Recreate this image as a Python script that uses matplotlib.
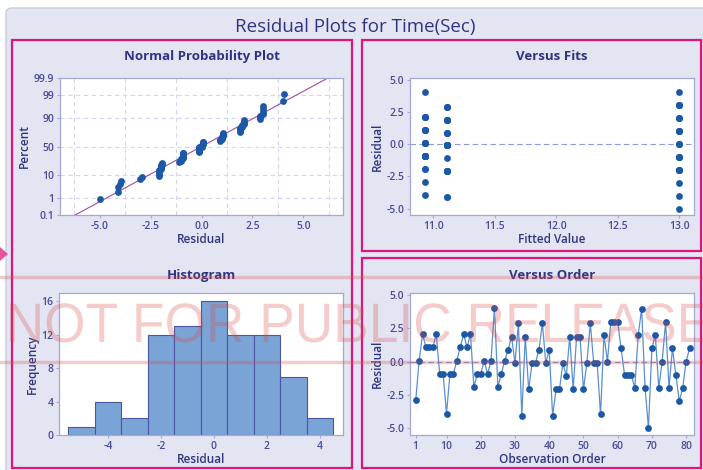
import numpy as np
import matplotlib
matplotlib.use("Agg")
import matplotlib.pyplot as plt
from matplotlib.patches import Rectangle, FancyBboxPatch, Polygon, PathPatch
from matplotlib.textpath import TextPath
from matplotlib.font_manager import FontProperties
from matplotlib.transforms import Affine2D
from statistics import NormalDist

plt.rcParams['font.family'] = ['Open Sans', 'DejaVu Sans']
plt.rcParams['axes.unicode_minus'] = False

residuals = [-2.93, 0.07, 2.07, 1.07, 1.07, 1.07, 2.07, -0.93, -0.93, -3.93,
             -0.93, -0.93, 0.07, 1.07, 2.07, 1.07, 2.07, -1.93, -0.93, -0.93,
             0.07, -0.93, 0.07, 4.07, -1.93, -0.93, 0.07,
             0.89, 1.89, -0.11, 2.89, -4.11, 1.89, -2.11, -0.11, -0.11, 0.89,
             2.89, -0.11, 0.89, -4.11, -2.11, -2.11, -0.11, -1.11, 1.89, -2.11,
             1.89, 1.89, -2.11, -0.11, 2.89, -0.11, -0.11,
             -4, 2, 0, 3, 3, 3, 1, -1, -1, -1, -2, 2, 4, -2, -5, 1, 2, -2, 0, 3,
             -2, 1, -1, -3, -2, 0, 1]
fitted = [10.93] * 27 + [11.11] * 27 + [13.0] * 27
order = list(range(1, len(residuals) + 1))

pct_ticks = [0.1, 1, 10, 50, 90, 99, 99.9]
pct_labels = ['0.1', '1', '10', '50', '90', '99', '99.9']
hist_edges = [-5.5, -4.5, -3.5, -2.5, -1.5, -0.5, 0.5, 1.5, 2.5, 3.5, 4.5]

# colours
BG = '#e4e5f3'
PINK = '#e0157c'
NAVY = '#2f3482'
TICK = '#474b9a'
SPINE = '#a3a8d6'
DOT = '#1c58a5'

W, H = 703, 470
fig = plt.figure(figsize=(W / 100, H / 100), dpi=100, facecolor='white')

def px_axes(l, t, r, b):
    ax = fig.add_axes([l / W, 1 - b / H, (r - l) / W, (b - t) / H])
    ax.set_facecolor('white')
    for s in ax.spines.values():
        s.set_color(SPINE)
        s.set_linewidth(0.9)
    ax.tick_params(colors=SPINE, labelcolor=TICK, labelsize=7.5, length=2.5,
                   width=0.8, pad=1.5)
    return ax

def deco(ax, title, xlabel, ylabel, tpad):
    ax.set_title(title, fontsize=9.5, color=NAVY, fontweight='bold', pad=tpad)
    ax.set_xlabel(xlabel, fontsize=8.5, color=NAVY, fontweight='semibold', labelpad=1)
    ax.set_ylabel(ylabel, fontsize=8.5, color=NAVY, fontweight='semibold', labelpad=2)
    for lab in ax.get_xticklabels() + ax.get_yticklabels():
        lab.set_fontweight('semibold')

# background frame
fig.add_artist(FancyBboxPatch((6 / W, -0.05), 1.05, 1 - 8 / H + 0.05,
                              boxstyle='round,pad=0,rounding_size=0.01',
                              transform=fig.transFigure, facecolor=BG,
                              edgecolor='#c9cbdb', linewidth=1.0, zorder=-10))
for (l, t, r, b) in [(12, 40, 352, 468), (362, 40, 701, 251), (362, 258, 701, 468)]:
    fig.add_artist(Rectangle((l / W, 1 - b / H), (r - l) / W, (b - t) / H,
                             transform=fig.transFigure, fill=False,
                             edgecolor=PINK, linewidth=1.6, zorder=-5))
fig.add_artist(Polygon([[0, 1 - 247 / H], [8 / W, 1 - 254 / H], [0, 1 - 261 / H]],
                       closed=True, transform=fig.transFigure,
                       facecolor='#e2559c', edgecolor='none'))

fig.text(355 / W, 1 - 27 / H, 'Residual Plots for Time(Sec)', ha='center', va='center',
         fontsize=13.5, color=NAVY)

# normal probability plot
nd = NormalDist()
def fwd(p):
    p = np.clip(np.asarray(p, dtype=float), 1e-6, 100 - 1e-6)
    return np.vectorize(lambda v: nd.inv_cdf(v / 100.0))(p) if p.size else p
def inv(z):
    z = np.asarray(z, dtype=float)
    return np.vectorize(lambda v: nd.cdf(v) * 100.0)(z) if z.size else z

ax1 = px_axes(60, 78, 343, 215)
ax1.set_yscale('function', functions=(fwd, inv))
srt = np.sort(residuals)
n = len(srt)
pct = (np.arange(1, n + 1) - 0.3) / (n + 0.4) * 100
mu, sd = np.mean(residuals), np.std(residuals, ddof=1)
fit = NormalDist(mu, sd)
ax1.plot([fit.inv_cdf(0.0005), fit.inv_cdf(0.9995)], [0.05, 99.95],
         color='#a44aa4', lw=0.8, zorder=2)
ax1.scatter(srt, pct, s=24, color=DOT, zorder=3, linewidths=0)
ax1.set_ylim(0.1, 99.9)
ax1.set_xlim(-6.95, 6.95)
ax1.set_yticks(pct_ticks)
ax1.set_yticklabels(pct_labels)
ax1.minorticks_off()
ax1.set_xticks([-5, -2.5, 0, 2.5, 5])
ax1.set_xticklabels(['-5.0', '-2.5', '0.0', '2.5', '5.0'])
for yv in pct_ticks[1:-1]:
    ax1.axhline(yv, color='#d3d6ee', lw=0.8, ls=(0, (4, 3)), zorder=0)
for xv in [-6.25, -3.75, -1.25, 1.25, 3.75, 6.25]:
    ax1.axvline(xv, color='#d3d6ee', lw=0.8, ls=(0, (4, 3)), zorder=0)
deco(ax1, 'Normal Probability Plot', 'Residual', 'Percent', 13)

# versus fits
ax2 = px_axes(410, 78, 694, 215)
ax2.axhline(0, color='#8e9ad8', lw=0.8, ls=(0, (5, 3)), zorder=1)
ax2.scatter(fitted, residuals, s=24, color=DOT, zorder=3, linewidths=0)
ax2.set_xlim(10.81, 13.12)
ax2.set_ylim(-5.5, 5.12)
ax2.set_xticks([11.0, 11.5, 12.0, 12.5, 13.0])
ax2.set_xticklabels(['11.0', '11.5', '12.0', '12.5', '13.0'])
ax2.set_yticks([-5, -2.5, 0, 2.5, 5])
ax2.set_yticklabels(['-5.0', '-2.5', '0.0', '2.5', '5.0'])
deco(ax2, 'Versus Fits', 'Fitted Value', 'Residual', 13)

# histogram
ax3 = px_axes(59, 293, 343, 435)
ax3.hist(residuals, bins=hist_edges, color='#7ba4d6', edgecolor='#4b56a3', linewidth=0.8)
ax3.set_xlim(-5.85, 4.87)
ax3.set_ylim(0, 17)
ax3.set_xticks([-4, -2, 0, 2, 4])
ax3.set_yticks([0, 4, 8, 12, 16])
deco(ax3, 'Histogram', 'Residual', 'Frequency', 10)

# versus order
ax4 = px_axes(410, 293, 694, 435)
ax4.axhline(0, color='#8e9ad8', lw=0.8, ls=(0, (5, 3)), zorder=1)
ax4.plot(order, residuals, color='#5a8fd0', lw=0.9, zorder=2)
ax4.scatter(order, residuals, s=24, color=DOT, zorder=3, linewidths=0)
ax4.set_xlim(-0.67, 82.3)
ax4.set_ylim(-5.55, 5.18)
ax4.set_xticks([1, 10, 20, 30, 40, 50, 60, 70, 80])
ax4.set_yticks([-5, -2.5, 0, 2.5, 5])
ax4.set_yticklabels(['-5.0', '-2.5', '0.0', '2.5', '5.0'])
deco(ax4, 'Versus Order', 'Observation Order', 'Residual', 10)

# watermark
for yl in [277, 362]:
    fig.add_artist(plt.Line2D([0, 1], [1 - yl / H, 1 - yl / H], transform=fig.transFigure,
                              color='#d84848', alpha=0.28, lw=2.5, zorder=20))
tp = TextPath((0, 0), 'NOT FOR PUBLIC RELEASE', size=100,
              prop=FontProperties(family='Liberation Sans'))
ext = tp.get_extents()
sx = 700 / ext.width
sy = 40 / 72.0
tr = Affine2D().translate(-ext.x0, 0).scale(sx, sy).translate(10, H - 342)
fig.add_artist(PathPatch(tp, transform=tr, facecolor='#d84848', edgecolor='none',
                         alpha=0.28, zorder=20))

fig.savefig('out.png', dpi=100, facecolor=fig.get_facecolor())
